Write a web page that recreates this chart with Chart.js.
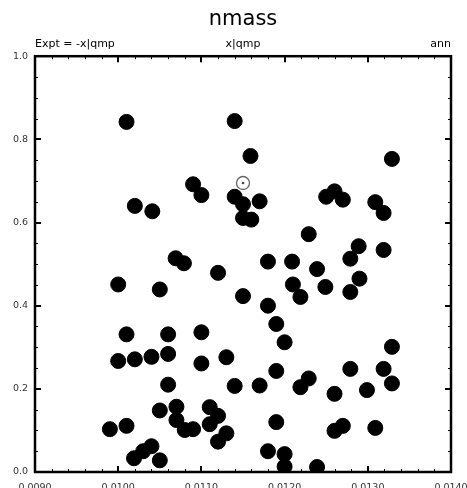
<!DOCTYPE html>
<html>
<head>
<meta charset="utf-8">
<script src="https://cdn.jsdelivr.net/npm/chart.js@4"></script>
<style>
  body { margin: 0; background: #fff; }
  #wrap { width: 467px; height: 488px; position: relative; }
</style>
</head>
<body>
<div id="wrap"><canvas id="chart"></canvas></div>
<script>
// values
const xVals = [
  0.01010, 0.01140, 0.01159, 0.01329, 0.01090, 0.01100, 0.01140, 0.01150, 0.01150, 0.01160,
  0.01170, 0.01020, 0.01041, 0.01069, 0.01079, 0.01120, 0.01250, 0.01260, 0.01270, 0.01309,
  0.01319, 0.01229, 0.01289, 0.01279, 0.01319, 0.01180, 0.01209, 0.01239, 0.01210, 0.01219,
  0.01249, 0.01290, 0.01279, 0.01150, 0.01180, 0.01190, 0.01200, 0.01329, 0.01130, 0.01190,
  0.01279, 0.01319, 0.01329, 0.01229, 0.01219, 0.01170, 0.01140, 0.01260, 0.01299, 0.01190,
  0.01260, 0.01270, 0.01309, 0.01180, 0.01200, 0.01200, 0.01239, 0.01000, 0.01050, 0.01010,
  0.01060, 0.01100, 0.01000, 0.01020, 0.01040, 0.01060, 0.01100, 0.01060, 0.01050, 0.01070,
  0.01070, 0.01110, 0.01120, 0.01110, 0.01080, 0.01090, 0.00990, 0.01010, 0.01130, 0.01120,
  0.01019, 0.01030, 0.01040, 0.01050
];
const yVals = [
  0.842, 0.844, 0.760, 0.753, 0.692, 0.666, 0.662, 0.644, 0.611, 0.607,
  0.651, 0.640, 0.627, 0.514, 0.502, 0.479, 0.662, 0.675, 0.655, 0.649,
  0.623, 0.572, 0.543, 0.513, 0.534, 0.506, 0.506, 0.488, 0.451, 0.421,
  0.445, 0.465, 0.433, 0.423, 0.400, 0.356, 0.312, 0.301, 0.276, 0.243,
  0.248, 0.248, 0.213, 0.225, 0.204, 0.208, 0.207, 0.188, 0.197, 0.120,
  0.099, 0.111, 0.106, 0.050, 0.043, 0.013, 0.012, 0.451, 0.439, 0.331,
  0.331, 0.336, 0.267, 0.271, 0.277, 0.284, 0.261, 0.210, 0.148, 0.157,
  0.125, 0.156, 0.135, 0.115, 0.101, 0.103, 0.103, 0.111, 0.093, 0.073,
  0.033, 0.050, 0.062, 0.028
];
// the ringed observation point
const markX = [0.01150];
const markY = [0.695];

const xTicks = [0.0090, 0.0100, 0.0110, 0.0120, 0.0130, 0.0140];
const yTicks = [0.0, 0.2, 0.4, 0.6, 0.8, 1.0];

const chartTitle = 'nmass';
const leftLabel = 'Expt = -x|qmp';
const midLabel = 'x|qmp';
const rightLabel = 'ann';

const FONT = '"DejaVu Sans", Verdana, sans-serif';

function toPoints(xs, ys) {
  return xs.map((x, i) => ({ x: x, y: ys[i] }));
}

// box, inward ticks and the three header labels
const framePlugin = {
  id: 'frame',
  afterDraw(chart) {
    const ctx = chart.ctx;
    const a = chart.chartArea;
    const xs = chart.scales.x;
    const ys = chart.scales.y;
    ctx.save();
    ctx.strokeStyle = '#000';

    // minor ticks
    ctx.lineWidth = 1;
    ctx.beginPath();
    for (let i = 0; i <= 25; i++) {
      const px = Math.round(xs.getPixelForValue(0.009 + i * 0.0002)) + 0.5;
      ctx.moveTo(px, a.bottom); ctx.lineTo(px, a.bottom - 3);
      ctx.moveTo(px, a.top); ctx.lineTo(px, a.top + 3);
    }
    for (let i = 0; i <= 20; i++) {
      const py = Math.round(ys.getPixelForValue(i * 0.05)) + 0.5;
      ctx.moveTo(a.left, py); ctx.lineTo(a.left + 3, py);
      ctx.moveTo(a.right, py); ctx.lineTo(a.right - 3, py);
    }
    ctx.stroke();

    // major ticks
    ctx.lineWidth = 2;
    ctx.beginPath();
    xTicks.forEach(v => {
      const px = Math.round(xs.getPixelForValue(v));
      ctx.moveTo(px, a.bottom); ctx.lineTo(px, a.bottom - 6);
      ctx.moveTo(px, a.top); ctx.lineTo(px, a.top + 6);
    });
    yTicks.forEach(v => {
      const py = Math.round(ys.getPixelForValue(v));
      ctx.moveTo(a.left, py); ctx.lineTo(a.left + 6, py);
      ctx.moveTo(a.right, py); ctx.lineTo(a.right - 6, py);
    });
    ctx.stroke();

    ctx.lineWidth = 2.5;
    ctx.strokeRect(a.left, a.top, a.right - a.left, a.bottom - a.top);

    ctx.fillStyle = '#000';
    ctx.font = '11px ' + FONT;
    ctx.textBaseline = 'alphabetic';
    const yb = a.top - 9;
    ctx.textAlign = 'left';
    ctx.fillText(leftLabel, a.left, yb);
    ctx.textAlign = 'center';
    ctx.fillText(midLabel, (a.left + a.right) / 2, yb);
    ctx.textAlign = 'right';
    ctx.fillText(rightLabel, a.right, yb);
    ctx.restore();
  }
};

new Chart(document.getElementById('chart'), {
  type: 'scatter',
  data: {
    datasets: [
      {
        // centre dot of the ring
        data: toPoints(markX, markY),
        pointRadius: 1.3,
        pointBackgroundColor: '#444',
        pointBorderWidth: 0
      },
      {
        data: toPoints(markX, markY),
        pointRadius: 6.5,
        pointBackgroundColor: '#fff',
        pointBorderColor: '#666',
        pointBorderWidth: 1.3
      },
      {
        data: toPoints(xVals, yVals),
        pointRadius: 7.5,
        pointBackgroundColor: '#000',
        pointBorderColor: '#000',
        pointBorderWidth: 1
      }
    ]
  },
  options: {
    responsive: true,
    maintainAspectRatio: false,
    animation: false,
    layout: { padding: 0 },
    plugins: {
      legend: { display: false },
      tooltip: { enabled: false },
      title: {
        display: true,
        fullSize: false,
        text: chartTitle,
        color: '#000',
        font: { family: FONT, size: 21, weight: 'normal', lineHeight: 1.2 },
        padding: { top: 7, bottom: 24 }
      }
    },
    scales: {
      x: {
        type: 'linear',
        min: 0.009,
        max: 0.014,
        afterBuildTicks(scale) { scale.ticks = xTicks.map(v => ({ value: v })); },
        afterFit(scale) {
          scale.height = 16;
          scale.paddingLeft = 0;
          scale.paddingRight = 16;
        },
        grid: { display: false, drawTicks: false },
        border: { display: false },
        ticks: {
          autoSkip: false,
          maxRotation: 0,
          padding: 10,
          color: '#333',
          font: { family: FONT, size: 9.5 },
          callback: v => v.toFixed(4)
        }
      },
      y: {
        type: 'linear',
        min: 0,
        max: 1,
        afterBuildTicks(scale) { scale.ticks = yTicks.map(v => ({ value: v })); },
        afterFit(scale) { scale.width = 35; },
        grid: { display: false, drawTicks: false },
        border: { display: false },
        ticks: {
          padding: 7,
          color: '#333',
          font: { family: FONT, size: 9.5 },
          callback: v => v.toFixed(1)
        }
      }
    }
  },
  plugins: [framePlugin]
});
</script>
</body>
</html>
